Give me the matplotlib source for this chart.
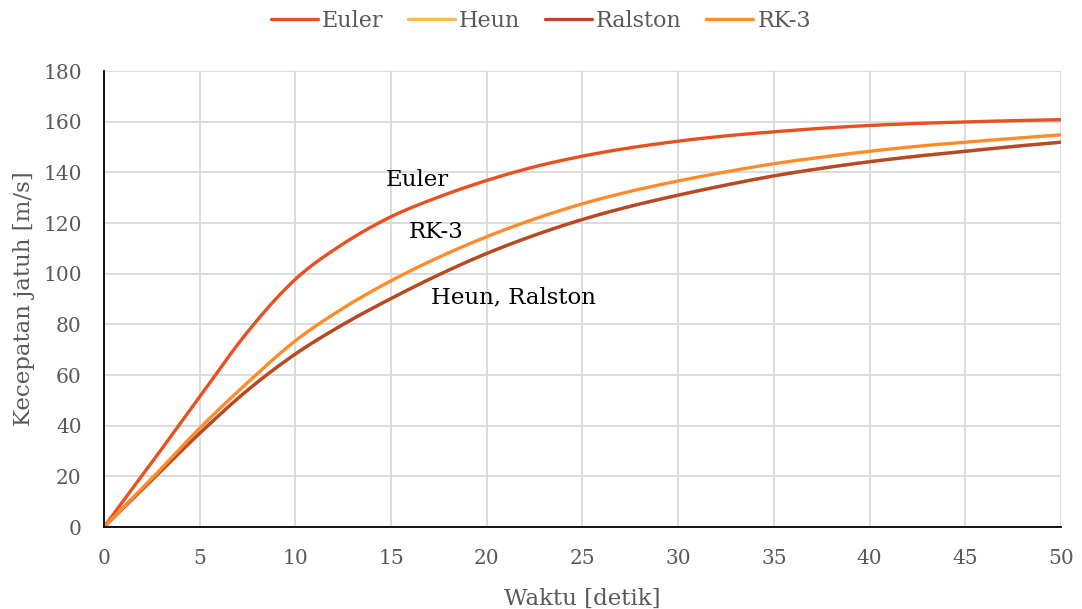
import numpy as np
import matplotlib.pyplot as plt

# data
waktu = [0, 2.5, 5, 7.5, 10, 12.5, 15, 17.5, 20, 22.5, 25, 27.5, 30, 32.5,
         35, 37.5, 40, 42.5, 45, 47.5, 50]
euler = [0, 25.5, 51.4, 77.0, 97.8, 111.8, 122.5, 130.3, 136.8, 142.2, 146.4,
         149.7, 152.3, 154.4, 156.0, 157.4, 158.5, 159.3, 159.9, 160.4, 160.8]
heun = [0, 18.6, 37.0, 54.0, 68.3, 80.0, 90.2, 99.6, 108.0, 115.2, 121.4,
        126.6, 131.0, 135.0, 138.6, 141.6, 144.2, 146.4, 148.3, 150.2, 151.9]
ralston = list(heun)
rk3 = [0, 19.2, 39.0, 57.0, 73.5, 86.4, 97.2, 106.5, 114.6, 121.6, 127.6,
       132.5, 136.6, 140.2, 143.4, 146.0, 148.3, 150.3, 151.9, 153.4, 154.8]

seri = ['Euler', 'Heun', 'Ralston', 'RK-3']
warna = ['#E8501F', '#FFBA47', '#B5492A', '#FF8B2B']


def halus(x, y, n=20):
    # garis halus ala Excel (Catmull-Rom)
    x = np.asarray(x, float)
    y = np.asarray(y, float)
    px = np.concatenate([[2 * x[0] - x[1]], x, [2 * x[-1] - x[-2]]])
    py = np.concatenate([[2 * y[0] - y[1]], y, [2 * y[-1] - y[-2]]])
    xs, ys = [], []
    t = np.linspace(0, 1, n, endpoint=False)
    for i in range(1, len(px) - 2):
        for a, b in ((px, xs), (py, ys)):
            p0, p1, p2, p3 = a[i - 1], a[i], a[i + 1], a[i + 2]
            b.extend(0.5 * (2 * p1 + (-p0 + p2) * t + (2 * p0 - 5 * p1 + 4 * p2 - p3) * t ** 2
                            + (-p0 + 3 * p1 - 3 * p2 + p3) * t ** 3))
    xs.append(x[-1])
    ys.append(y[-1])
    return xs, ys


plt.rcParams['font.family'] = ['DejaVu Serif']

fig = plt.figure(figsize=(10.82, 6.09), dpi=100)
ax = fig.add_axes([0.0961, 0.1346, 0.8845, 0.7488])

for nama, y, c in zip(seri, [euler, heun, ralston, rk3], warna):
    xs, ys = halus(waktu, y)
    ax.plot(xs, ys, color=c, lw=2.4, label=nama, solid_capstyle='round')

ax.set_xlim(0, 50)
ax.set_ylim(0, 180)
ax.set_xticks(np.arange(0, 51, 5))
ax.set_yticks(np.arange(0, 181, 20))
ax.grid(True, color='#D9D9D9', lw=1.3)
ax.set_axisbelow(True)
for s in ['top', 'right']:
    ax.spines[s].set_visible(False)
for s in ['left', 'bottom']:
    ax.spines[s].set_color('black')
    ax.spines[s].set_linewidth(1.3)
ax.tick_params(length=0, labelsize=14.5, labelcolor='#595959', pad=16)

ax.set_xlabel('Waktu [detik]', fontsize=16.5, color='#595959', labelpad=14)
ax.set_ylabel('Kecepatan jatuh [m/s]', fontsize=16.5, color='#595959', labelpad=6)

ax.text(14.7, 137, 'Euler', fontsize=16.5, va='center')
ax.text(15.9, 116.5, 'RK-3', fontsize=16.5, va='center')
ax.text(17.1, 90.8, 'Heun, Ralston', fontsize=16.5, va='center')

fig.legend(loc='upper center', bbox_to_anchor=(0.5, 1.017), ncol=4, frameon=False,
           fontsize=16, handlelength=2.1, handletextpad=0.2, columnspacing=1.1,
           labelcolor='#595959')

fig.savefig('out.png', dpi=100)
